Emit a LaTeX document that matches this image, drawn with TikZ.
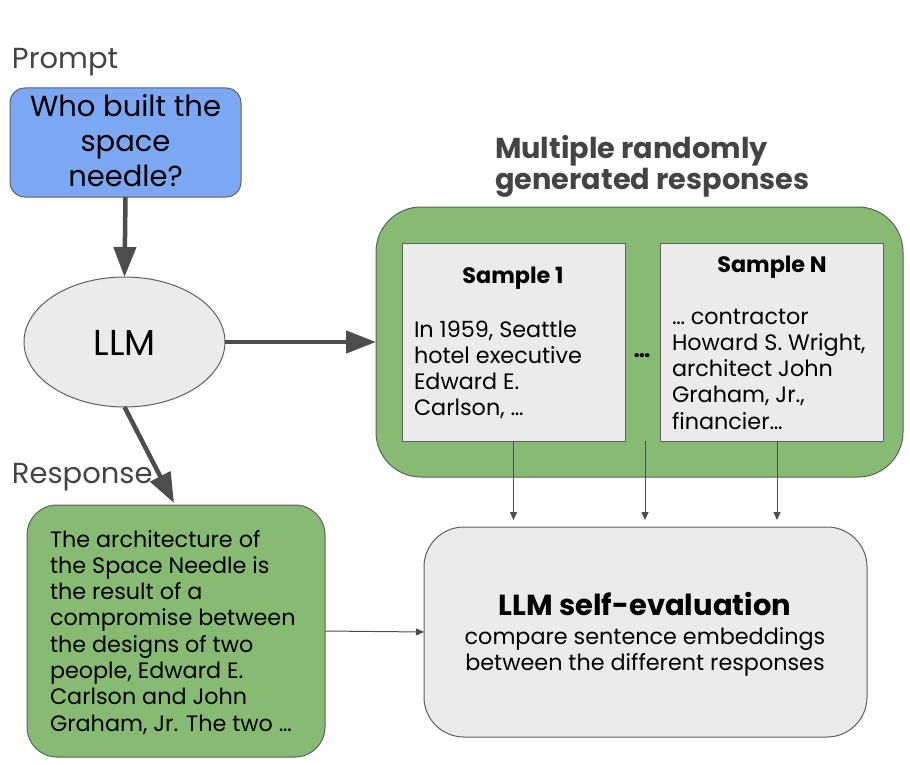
\documentclass[tikz,border=0pt]{standalone}
\usepackage{fontspec}
\setmainfont{Poppins}
\usetikzlibrary{arrows.meta,shapes.geometric}
\definecolor{bluefill}{RGB}{124,167,242}
\definecolor{greenfill}{RGB}{135,187,115}
\definecolor{grayfill}{RGB}{235,235,235}
\definecolor{edgec}{RGB}{95,95,95}
\definecolor{arrowc}{RGB}{77,77,77}
\definecolor{titlec}{RGB}{68,68,68}
\definecolor{labelc}{RGB}{68,68,68}
\newcommand{\fs}[2]{\fontsize{#1}{#2}\selectfont}
\begin{document}
\begin{tikzpicture}[x=1pt,y=-1pt,
  shapebox/.style={draw=edgec, line width=1pt, inner sep=0pt, outer sep=0pt},
  txt/.style={inner sep=0pt, outer sep=0pt, text=black},
  bigarrow/.style={draw=arrowc, line width=4.5pt, -{Triangle[length=30pt,width=22pt]}},
  thinarrow/.style={draw=arrowc, line width=1pt, -{Triangle[length=8pt,width=7pt]}},
  body/.style={txt, font=\fs{22.3}{26.3}}
]
\useasboundingbox (0,0) rectangle (910,765);

% labels
\node[txt, text=labelc, anchor=base west, font=\fs{29}{32}] (promptlabel) at (12,69) {Prompt};
\node[txt, text=labelc, anchor=base west, font=\fs{29}{32}] (responselabel) at (12,483) {Response};

% prompt box
\node[shapebox, fill=bluefill, rounded corners=15pt, minimum width=231pt, minimum height=109pt] (prompt) at (125.5,142.5) {};
\node[txt, anchor=base, font=\fs{29}{35}] (prompttext) at (125.5,117) {\begin{tabular}[t]{@{}c@{}}Who built the\\space\\needle?\end{tabular}};

% LLM ellipse
\node[ellipse, shapebox, fill=grayfill, minimum width=201pt, minimum height=130pt] (llm) at (124.5,342) {};
\node[txt, anchor=base, font=\fs{36}{40}] (llmtext) at (124.5,355) {LLM};

% response box
\node[shapebox, fill=greenfill, rounded corners=30pt, minimum width=298pt, minimum height=252pt] (response) at (176,631) {};
\node[body, anchor=base west] (responsetext) at (50,547) {\begin{tabular}[t]{@{}l@{}}The architecture of\\the Space Needle is\\the result of a\\compromise between\\the designs of two\\people, Edward E.\\Carlson and John\\Graham, Jr. The two …\end{tabular}};

% samples container
\node[shapebox, fill=greenfill, rounded corners=45pt, minimum width=527pt, minimum height=270pt] (samples) at (639.5,342) {};
\node[txt, text=titlec, anchor=base west, font=\fs{28.8}{31.5}\bfseries] (samplestitle) at (495,158) {\begin{tabular}[t]{@{}l@{}}Multiple randomly\\generated responses\end{tabular}};

\node[shapebox, fill=grayfill, minimum width=223pt, minimum height=198pt] (s1) at (513.5,342) {};
\node[shapebox, fill=grayfill, minimum width=223pt, minimum height=198pt] (sN) at (771.5,342) {};
\node[txt, anchor=base, font=\fs{22.3}{26}\bfseries] (s1title) at (513,283) {Sample 1};
\node[txt, anchor=base, font=\fs{22.3}{26}\bfseries] (sNtitle) at (772,272) {Sample N};
\node[body, anchor=base west] (s1text) at (414,337) {\begin{tabular}[t]{@{}l@{}}In 1959, Seattle\\hotel executive\\Edward E.\\Carlson, …\end{tabular}};
\node[body, anchor=base west] (sNtext) at (672,324) {\begin{tabular}[t]{@{}l@{}}… contractor\\Howard S. Wright,\\architect John\\Graham, Jr.,\\financier…\end{tabular}};
\node[txt, anchor=base, font=\fs{22}{24}\bfseries] (dots) at (642,357) {…};

% evaluation box
\node[shapebox, fill=grayfill, rounded corners=40pt, minimum width=443pt, minimum height=210pt] (eval) at (645.5,632) {};
\node[txt, anchor=base, font=\fs{29}{32}\bfseries] (evaltitle) at (645,615) {LLM self-evaluation};
\node[body, anchor=base] (evaltext) at (645,644) {\begin{tabular}[t]{@{}c@{}}compare sentence embeddings\\between the different responses\end{tabular}};

% connectors
\coordinate (rtip) at (174,503);
\coordinate (midtop) at (645,441);
\draw[bigarrow] (prompt.south) -- (llm.north);
\draw[bigarrow] (llm.east) -- (samples.west);
\draw[bigarrow] (llm.south) -- (rtip);
\draw[thinarrow] (response.east) -- (eval.west);
\draw[thinarrow, shorten >=7pt] (s1.south) -- (s1.south |- eval.north);
\draw[thinarrow, shorten >=7pt] (midtop) -- (midtop |- eval.north);
\draw[thinarrow, shorten >=7pt] ([xshift=5.5pt]sN.south) -- ([xshift=5.5pt]sN.south |- eval.north);
\end{tikzpicture}
\end{document}
